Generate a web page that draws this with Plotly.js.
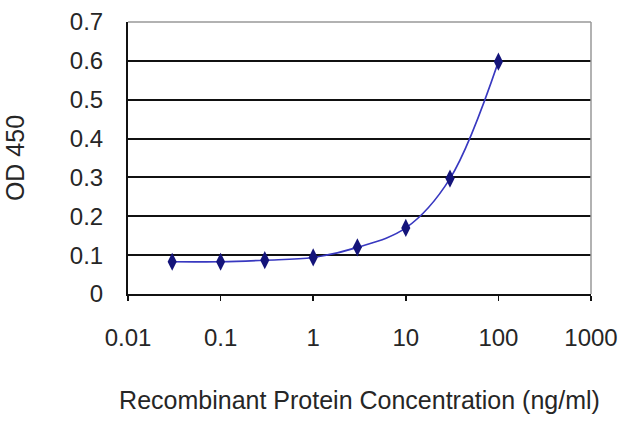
<!DOCTYPE html>
<html>
<head>
<meta charset="utf-8">
<script src="https://cdn.plot.ly/plotly-3.0.1.min.js"></script>
<style>
  html, body { margin: 0; padding: 0; background: #fff; }
  #chart { width: 640px; height: 427px; }
</style>
</head>
<body>
<div id="chart"></div>
<script>
// ─── data ───────────────────────────────────────────────────
var concentration = [0.03, 0.1, 0.3, 1, 3, 10, 30, 100];
var od450 = [0.083, 0.083, 0.087, 0.094, 0.12, 0.17, 0.297, 0.598];
var xTickVals = [0.01, 0.1, 1, 10, 100, 1000];
var xTickText = ['0.01', '0.1', '1', '10', '100', '1000'];
var yTickVals = [0, 0.1, 0.2, 0.3, 0.4, 0.5, 0.6, 0.7];

var tickFont = { family: 'Liberation Sans, Arial, sans-serif', size: 24, color: '#262626' };
var titleFont = { family: 'Liberation Sans, Arial, sans-serif', size: 25, color: '#262626' };

var trace = {
  type: 'scatter', mode: 'lines+markers',
  x: concentration, y: od450,
  line: { color: '#3838c0', width: 1.6, shape: 'spline', smoothing: 1 },
  marker: { symbol: 'diamond-tall', size: 13, color: '#14147a' },
  hoverinfo: 'x+y',
};

var layout = {
  width: 640, height: 427,
  margin: { l: 128, r: 49, t: 22, b: 133 },
  paper_bgcolor: '#fff', plot_bgcolor: '#fff',
  font: tickFont,
  showlegend: false,
  xaxis: {
    type: 'log', range: [-2, 3],
    tickvals: xTickVals, ticktext: xTickText,
    ticks: 'outside', ticklen: 5, tickwidth: 1.5, tickcolor: '#111',
    ticklabelstandoff: 16,
    showgrid: false, zeroline: false,
    showline: true, linecolor: '#111', linewidth: 2,
    tickfont: tickFont,
    title: { text: 'Recombinant Protein Concentration (ng/ml)', font: titleFont, standoff: 42 },
    automargin: false,
  },
  yaxis: {
    range: [0, 0.7],
    tickvals: yTickVals,
    showgrid: true, gridcolor: '#111', gridwidth: 2,
    zeroline: false,
    showline: true, linecolor: '#111', linewidth: 2,
    ticks: '', ticklabelstandoff: 18,
    tickfont: tickFont,
    title: { text: 'OD 450', font: titleFont, standoff: 38 },
    automargin: false,
  },
  shapes: [
    // grey frame on top and right
    { type: 'line', xref: 'paper', yref: 'paper', x0: 0, x1: 1, y0: 1, y1: 1, line: { color: '#999', width: 1.5 } },
    { type: 'line', xref: 'paper', yref: 'paper', x0: 1, x1: 1, y0: 0, y1: 1, line: { color: '#999', width: 1.5 } },
  ],
};

Plotly.newPlot('chart', [trace], layout, { displayModeBar: false, staticPlot: true });
</script>
</body>
</html>
